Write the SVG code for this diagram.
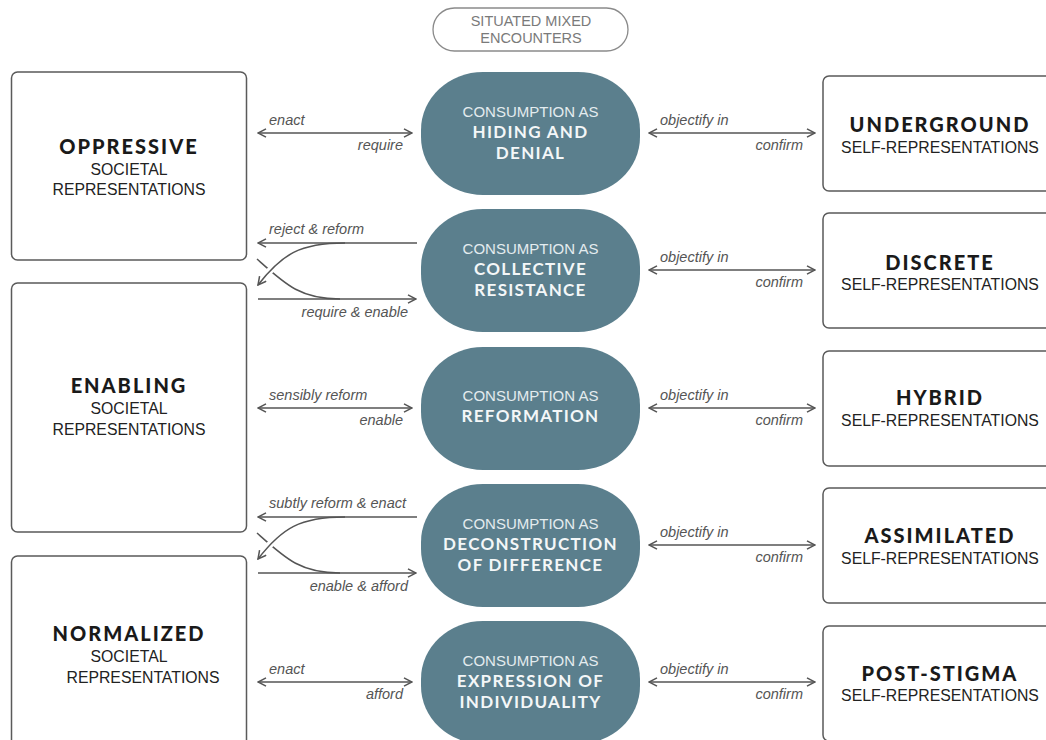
<svg xmlns="http://www.w3.org/2000/svg" width="1046" height="740" viewBox="0 0 1046 740">
<defs>
<marker id="ah" viewBox="0 0 10 10" refX="9" refY="5" markerWidth="10" markerHeight="10" markerUnits="userSpaceOnUse" orient="auto-start-reverse">
<path d="M1,0.8 L9,5 L1,9.2" fill="none" stroke="#555" stroke-width="1.5"/>
</marker>
<style>
.box{fill:#fff;stroke:#5a5a5a;stroke-width:1.5}
.oval{fill:#5b7f8d;stroke:none}
.t{font-family:Lato,"Liberation Sans",sans-serif;font-weight:900;font-size:20px;letter-spacing:2px;fill:#1a1a1a;text-anchor:middle}
.s{font-family:"Liberation Sans",Arial,sans-serif;font-size:15.8px;fill:#222;text-anchor:middle}
.oc{font-family:"Liberation Sans",Arial,sans-serif;font-size:15px;fill:#e4ecef;text-anchor:middle}
.ob{font-family:Lato,"Liberation Sans",sans-serif;font-weight:bold;font-size:17px;letter-spacing:1.3px;fill:#f4f7f8;text-anchor:middle}
.l{font-family:"Liberation Sans",Arial,sans-serif;font-style:italic;font-size:14.5px;fill:#555}
.r{text-anchor:end}
.ln{fill:none;stroke:#555;stroke-width:1.5}
.halo{fill:none;stroke:#fff;stroke-width:7}
.top{fill:#fff;stroke:#8a8a8a;stroke-width:1.3}
.tt{font-family:"Liberation Sans",Arial,sans-serif;font-size:14.5px;fill:#7a7a7a;text-anchor:middle}
</style>
</defs>
<rect width="1046" height="740" fill="#fff"/>

<g id="encounters">
<rect class="top" x="433" y="8" width="195" height="43" rx="21.5"/>
<text class="tt" x="531" y="26">SITUATED MIXED</text>
<text class="tt" x="531" y="43">ENCOUNTERS</text>
</g>

<g id="oppressive">
<rect class="box" x="11.5" y="72" width="235" height="188" rx="6"/>
<text class="t" x="129" y="154">OPPRESSIVE</text>
<text class="s" x="129" y="175">SOCIETAL</text>
<text class="s" x="129" y="195">REPRESENTATIONS</text>
</g>
<g id="enabling">
<rect class="box" x="11.5" y="283" width="235" height="249" rx="6"/>
<text class="t" x="129" y="393">ENABLING</text>
<text class="s" x="129" y="414">SOCIETAL</text>
<text class="s" x="129" y="435">REPRESENTATIONS</text>
</g>
<g id="normalized">
<rect class="box" x="11.5" y="556" width="235" height="200" rx="6"/>
<text class="t" x="129" y="641">NORMALIZED</text>
<text class="s" x="129" y="662">SOCIETAL</text>
<text class="s" x="143" y="683">REPRESENTATIONS</text>
</g>

<g id="hiding">
<rect class="oval" x="421" y="72" width="219" height="123" rx="62" ry="58"/>
<text class="oc" x="530.5" y="117">CONSUMPTION AS</text>
<text class="ob" x="530.5" y="138">HIDING AND</text>
<text class="ob" x="530.5" y="159">DENIAL</text>
</g>
<g id="collective">
<rect class="oval" x="421" y="209" width="219" height="123" rx="62" ry="58"/>
<text class="oc" x="530.5" y="254">CONSUMPTION AS</text>
<text class="ob" x="530.5" y="275">COLLECTIVE</text>
<text class="ob" x="530.5" y="296">RESISTANCE</text>
</g>
<g id="reformation">
<rect class="oval" x="421" y="347" width="219" height="123" rx="62" ry="58"/>
<text class="oc" x="530.5" y="401">CONSUMPTION AS</text>
<text class="ob" x="530.5" y="422">REFORMATION</text>
</g>
<g id="deconstruction">
<rect class="oval" x="421" y="484" width="219" height="123" rx="62" ry="58"/>
<text class="oc" x="530.5" y="529">CONSUMPTION AS</text>
<text class="ob" x="530.5" y="550">DECONSTRUCTION</text>
<text class="ob" x="530.5" y="571">OF DIFFERENCE</text>
</g>
<g id="expression">
<rect class="oval" x="421" y="621" width="219" height="123" rx="62" ry="58"/>
<text class="oc" x="530.5" y="666">CONSUMPTION AS</text>
<text class="ob" x="530.5" y="687">EXPRESSION OF</text>
<text class="ob" x="530.5" y="708">INDIVIDUALITY</text>
</g>

<g id="underground">
<rect class="box" x="823" y="76" width="240" height="115" rx="6"/>
<text class="t" x="940" y="132">UNDERGROUND</text>
<text class="s" x="940" y="153">SELF-REPRESENTATIONS</text>
</g>
<g id="discrete">
<rect class="box" x="823" y="213" width="240" height="115" rx="6"/>
<text class="t" x="940" y="270">DISCRETE</text>
<text class="s" x="940" y="290">SELF-REPRESENTATIONS</text>
</g>
<g id="hybrid">
<rect class="box" x="823" y="351" width="240" height="115" rx="6"/>
<text class="t" x="940" y="405">HYBRID</text>
<text class="s" x="940" y="426">SELF-REPRESENTATIONS</text>
</g>
<g id="assimilated">
<rect class="box" x="823" y="488" width="240" height="115" rx="6"/>
<text class="t" x="940" y="543">ASSIMILATED</text>
<text class="s" x="940" y="564">SELF-REPRESENTATIONS</text>
</g>
<g id="poststigma">
<rect class="box" x="823" y="626" width="240" height="115" rx="6"/>
<text class="t" x="940" y="681">POST-STIGMA</text>
<text class="s" x="940" y="701">SELF-REPRESENTATIONS</text>
</g>

<g id="connectors">
<!-- row 1 -->
<path class="ln" d="M258,133 L412,133" marker-start="url(#ah)" marker-end="url(#ah)"/>
<text class="l" x="269" y="125">enact</text>
<text class="l r" x="403" y="150">require</text>
<path class="ln" d="M649,133 L815,133" marker-start="url(#ah)" marker-end="url(#ah)"/>
<text class="l" x="660" y="125">objectify in</text>
<text class="l r" x="803" y="150">confirm</text>

<!-- row 2 -->
<path class="ln" d="M257,259 C285,284 300,299 340,299"/>
<path class="halo" d="M345,243 C300,243 282,254 262,280"/>
<path class="ln" d="M345,243 C300,243 282,254 258,285" marker-end="url(#ah)"/>
<path class="ln" d="M417,243 L258,243" marker-end="url(#ah)"/>
<path class="ln" d="M258,299 L416,299" marker-end="url(#ah)"/>
<text class="l" x="269" y="234">reject &amp; reform</text>
<text class="l r" x="408" y="317">require &amp; enable</text>
<path class="ln" d="M649,270 L815,270" marker-start="url(#ah)" marker-end="url(#ah)"/>
<text class="l" x="660" y="262">objectify in</text>
<text class="l r" x="803" y="287">confirm</text>

<!-- row 3 -->
<path class="ln" d="M258,408 L412,408" marker-start="url(#ah)" marker-end="url(#ah)"/>
<text class="l" x="269" y="400">sensibly reform</text>
<text class="l r" x="403" y="425">enable</text>
<path class="ln" d="M649,408 L815,408" marker-start="url(#ah)" marker-end="url(#ah)"/>
<text class="l" x="660" y="400">objectify in</text>
<text class="l r" x="803" y="425">confirm</text>

<!-- row 4 -->
<path class="ln" d="M257,533 C285,558 300,573 340,573"/>
<path class="halo" d="M345,517 C300,517 282,528 262,554"/>
<path class="ln" d="M345,517 C300,517 282,528 258,559" marker-end="url(#ah)"/>
<path class="ln" d="M417,517 L258,517" marker-end="url(#ah)"/>
<path class="ln" d="M258,573 L416,573" marker-end="url(#ah)"/>
<text class="l" x="269" y="508">subtly reform &amp; enact</text>
<text class="l r" x="408" y="591">enable &amp; afford</text>
<path class="ln" d="M649,545 L815,545" marker-start="url(#ah)" marker-end="url(#ah)"/>
<text class="l" x="660" y="537">objectify in</text>
<text class="l r" x="803" y="562">confirm</text>

<!-- row 5 -->
<path class="ln" d="M258,682 L412,682" marker-start="url(#ah)" marker-end="url(#ah)"/>
<text class="l" x="269" y="674">enact</text>
<text class="l r" x="403" y="699">afford</text>
<path class="ln" d="M649,682 L815,682" marker-start="url(#ah)" marker-end="url(#ah)"/>
<text class="l" x="660" y="674">objectify in</text>
<text class="l r" x="803" y="699">confirm</text>
</g>
</svg>
